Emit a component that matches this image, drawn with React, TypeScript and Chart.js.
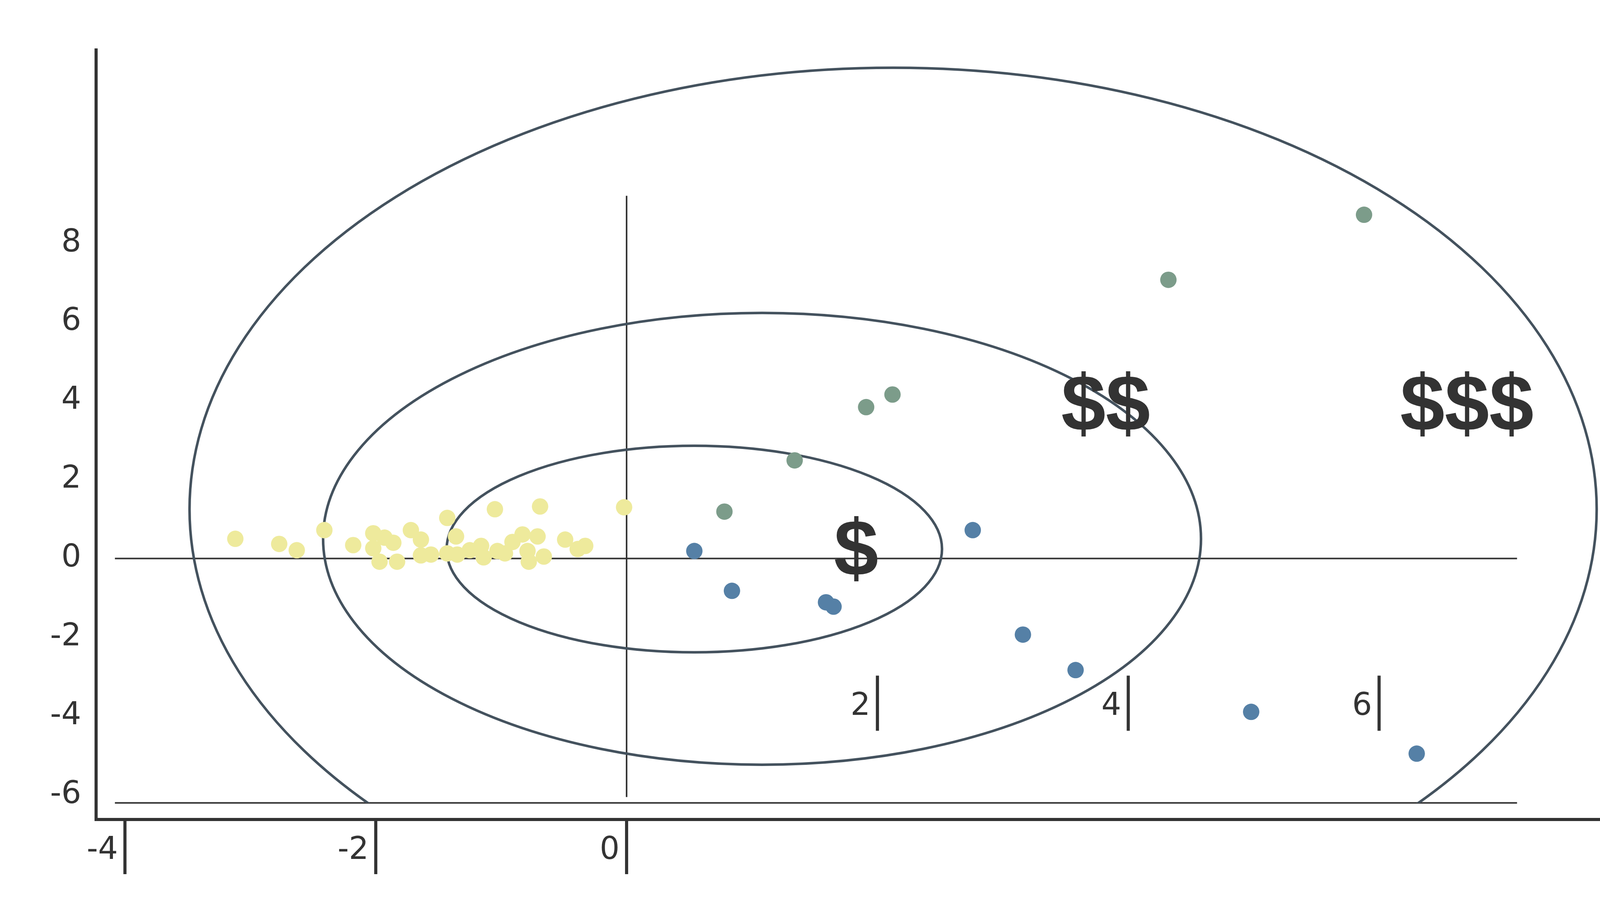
import React, { useEffect, useRef } from "react";
import { Chart, registerables } from "chart.js";
Chart.register(...registerables);

const yellowX = [-3.12,-2.77,-2.63,-2.41,-2.18,-2.02,-2.02,-1.97,-1.93,-1.86,-1.83,-1.72,-1.64,-1.64,-1.56,-1.43,-1.43,-1.36,-1.35,-1.25,-1.16,-1.14,-1.05,-1.03,-0.97,-0.91,-0.83,-0.79,-0.78,-0.71,-0.69,-0.66,-0.49,-0.39,-0.33,-0.02];
const yellowY = [0.5,0.37,0.21,0.72,0.34,0.64,0.26,-0.08,0.53,0.4,-0.08,0.72,0.48,0.08,0.1,1.03,0.13,0.56,0.1,0.21,0.32,0.03,1.25,0.19,0.13,0.42,0.61,0.19,-0.08,0.56,1.32,0.05,0.48,0.24,0.32,1.3];
const greenX = [0.78,1.34,1.91,2.12,4.32,5.88];
const greenY = [1.19,2.49,3.84,4.16,7.07,8.72];
const blueX = [0.54,0.84,1.59,1.65,2.76,3.16,3.58,4.98,6.3];
const blueY = [0.19,-0.82,-1.11,-1.22,0.72,-1.93,-2.83,-3.89,-4.95];
// ellipses: center x, center y, radius x, radius y
const ellCX = [0.54, 1.08, 2.125];
const ellCY = [0.24, 0.5, 1.25];
const ellRX = [1.975, 3.5, 5.61];
const ellRY = [2.62, 5.73, 11.2];
const labels = ["$", "$$", "$$$"];
const labelX = [1.83, 3.82, 6.7];
const labelY = [0.13, 3.8, 3.8];
const bottomTicks = [-4, -2, 0];
const innerTicks = [2, 4, 6];
const yTicks = [-6, -4, -2, 0, 2, 4, 6, 8];

const pts = (xs: number[], ys: number[]) => xs.map((x, i) => ({ x, y: ys[i] }));

export default function App() {
  const ref = useRef<HTMLCanvasElement>(null);
  useEffect(() => {
    document.body.style.margin = "0";
    const deco = {
      id: "deco",
      beforeDatasetsDraw(chart: any) {
        const { ctx, scales } = chart;
        const x = scales.x, y = scales.y;
        ctx.save();
        ctx.strokeStyle = "#333";
        ctx.lineWidth = 4;
        ctx.beginPath();
        for (const v of [0, -6.2]) {
          ctx.moveTo(x.getPixelForValue(-4.08), y.getPixelForValue(v));
          ctx.lineTo(x.getPixelForValue(7.1), y.getPixelForValue(v));
        }
        ctx.moveTo(x.getPixelForValue(0), y.getPixelForValue(9.2));
        ctx.lineTo(x.getPixelForValue(0), y.getPixelForValue(-6.05));
        ctx.stroke();
        ctx.beginPath();
        ctx.rect(0, 0, chart.width, y.getPixelForValue(-6.2));
        ctx.clip();
        ctx.strokeStyle = "#44525E";
        ctx.lineWidth = 6.5;
        for (let i = 0; i < ellCX.length; i++) {
          const cx = x.getPixelForValue(ellCX[i]), cy = y.getPixelForValue(ellCY[i]);
          const rx = Math.abs(x.getPixelForValue(ellCX[i] + ellRX[i]) - cx);
          const ry = Math.abs(y.getPixelForValue(ellCY[i] + ellRY[i]) - cy);
          ctx.beginPath();
          ctx.ellipse(cx, cy, rx, ry, 0, 0, Math.PI * 2);
          ctx.stroke();
        }
        ctx.restore();
      },
      afterDatasetsDraw(chart: any) {
        const { ctx, scales } = chart;
        const x = scales.x, y = scales.y;
        ctx.save();
        ctx.fillStyle = "#333";
        ctx.textAlign = "center";
        ctx.textBaseline = "middle";
        ctx.font = "bold 205px 'Liberation Sans', Arial, sans-serif";
        labels.forEach((t, i) => ctx.fillText(t, x.getPixelForValue(labelX[i]), y.getPixelForValue(labelY[i])));
        ctx.font = "80px 'DejaVu Sans', sans-serif";
        ctx.textAlign = "right";
        ctx.strokeStyle = "#333";
        ctx.lineWidth = 8;
        const drawTick = (v: number, top: number, bot: number, ly: number) => {
          const px = x.getPixelForValue(v);
          ctx.beginPath();
          ctx.moveTo(px, top);
          ctx.lineTo(px, bot);
          ctx.stroke();
          ctx.fillText(String(v), px - 18, ly);
        };
        const b = y.bottom;
        bottomTicks.forEach((v) => drawTick(v, b, b + 140, b + 80));
        innerTicks.forEach((v) => drawTick(v, y.getPixelForValue(-2.97), y.getPixelForValue(-4.37), y.getPixelForValue(-3.76)));
        ctx.restore();
      },
    };
    const c = new Chart(ref.current!, {
      type: "scatter",
      data: {
        datasets: [
          { data: pts(yellowX, yellowY), backgroundColor: "#EEEA9C", borderWidth: 0, pointRadius: 21 },
          { data: pts(greenX, greenY), backgroundColor: "#7C9C8A", borderWidth: 0, pointRadius: 21 },
          { data: pts(blueX, blueY), backgroundColor: "#5580A6", borderWidth: 0, pointRadius: 21 },
        ],
      },
      options: {
        animation: false,
        responsive: false,
        layout: { padding: { top: 128, right: 54 } },
        plugins: { legend: { display: false }, tooltip: { enabled: false } },
        scales: {
          x: {
            type: "linear", min: -4.23, max: 7.83,
            grid: { display: false },
            border: { color: "#333", width: 8 },
            ticks: { display: false },
            afterFit: (s: any) => { s.height = 260; },
          },
          y: {
            type: "linear", min: -6.62, max: 12.9,
            grid: { display: false },
            border: { color: "#333", width: 8 },
            afterBuildTicks: (s: any) => { s.ticks = yTicks.map((v) => ({ value: v })); },
            ticks: { color: "#333", font: { size: 80, family: "'DejaVu Sans', sans-serif" }, padding: 30 },
            afterFit: (s: any) => { s.width = 246; },
          },
        },
      },
      plugins: [deco],
    });
    return () => c.destroy();
  }, []);
  return <canvas ref={ref} width={4172} height={2359} style={{ display: "block" }} />;
}
